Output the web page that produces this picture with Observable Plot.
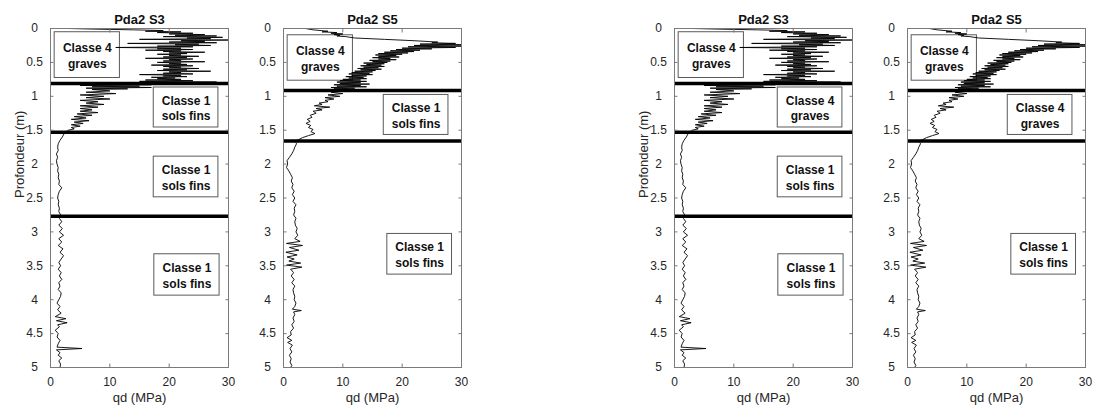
<!DOCTYPE html>
<html>
<head>
<meta charset="utf-8">
<script src="https://cdn.jsdelivr.net/npm/d3@7"></script>
<script src="https://cdn.jsdelivr.net/npm/@observablehq/plot@0.6"></script>
<style>
  body { margin: 0; background: #fff; }
  #wrap { position: relative; width: 1093px; height: 408px; overflow: hidden; background: #fff; }
  .panel { position: absolute; top: 0; width: 235px; height: 408px; }
  .panel svg { max-width: none; }
</style>
</head>
<body>
<div id="wrap"></div>
<script>
// ---------- data ----------
const xTicks = [0, 10, 20, 30];
const yTicks = [0, 0.5, 1, 1.5, 2, 2.5, 3, 3.5, 4, 4.5, 5];

// Pda2 S3 : depth (m) / qd (MPa)
const s3Depth = [
  0,0.01,0.02,0.03,0.04,0.05,0.06,0.07,0.08,0.09,
  0.10,0.11,0.12,0.13,0.14,0.15,0.16,0.17,0.18,0.19,
  0.20,0.21,0.22,0.23,0.24,0.25,0.26,0.27,0.28,0.29,
  0.30,0.31,0.32,0.33,0.34,0.35,0.36,0.37,0.38,0.39,
  0.40,0.41,0.42,0.43,0.44,0.45,0.46,0.47,0.48,0.49,
  0.50,0.51,0.52,0.53,0.54,0.55,0.56,0.57,0.58,0.59,
  0.60,0.61,0.62,0.63,0.64,0.65,0.66,0.67,0.68,0.69,
  0.70,0.71,0.72,0.73,0.74,0.75,0.76,0.77,0.78,0.79,
  0.80,0.81,0.82,0.83,0.84,0.85,0.86,0.87,0.88,0.89,0.90,
  0.92,0.94,0.96,0.98,1.00,1.02,1.04,1.06,1.08,1.10,
  1.12,1.14,1.16,1.18,1.20,1.22,1.24,1.26,1.28,1.30,
  1.32,1.34,1.36,1.38,1.40,1.42,1.44,1.46,1.48,1.50,
  1.55,1.60,1.65,1.70,1.75,1.80,1.85,1.90,1.95,2.00,
  2.05,2.10,2.15,2.20,2.25,2.30,2.35,2.40,2.45,2.50,
  2.55,2.60,2.65,2.70,2.75,2.80,2.85,2.90,2.95,3.00,
  3.05,3.10,3.15,3.20,3.25,3.30,3.35,3.40,3.45,3.50,
  3.55,3.60,3.65,3.70,3.75,3.80,3.85,3.90,3.95,4.00,
  4.05,4.10,4.15,4.20,4.25,4.28,4.31,4.34,4.37,4.40,
  4.45,4.50,4.55,4.60,4.65,4.70,4.72,4.74,4.78,4.82,
  4.86,4.90,4.95,5.00
];
const s3Qd = [
  3,8,14,19,16,22,18,24,20,26,
  21,28,19,29,23,27,15,30,22,26,
  20,28,13,25,21,27,18,24,11,22,
  18,24,16,22,19,26,20,23,18,22,
  20,25,19,23,16,24,20,22,19,26,
  18,22,20,23,17,24,19,22,20,25,
  19,23,18,27,20,22,19,24,15,22,
  19,23,17,21,18,22,16,24,15,28,
  8,24,6,17,5,15,7,17,6,13,7,
  10,6,11,5,9,6,10,5,8,6,
  9,5,8,5,7,5,8,4.5,7,4,
  6,3.5,6.5,4,5.5,3.5,5,3.5,4,3,
  2.3,2.0,1.6,1.3,1.2,1.3,1.0,1.2,1.0,1.1,
  1.3,1.2,1.4,1.3,1.5,1.4,1.9,1.5,1.3,1.2,
  1.4,1.3,1.5,1.4,1.7,1.5,1.9,1.4,2.0,1.5,
  2.2,1.4,1.9,1.3,2.1,1.6,2.2,1.8,1.4,1.7,
  1.3,1.8,1.5,1.9,1.4,1.6,1.3,1.8,1.7,1.4,
  1.1,1.6,1.2,1.8,0.8,2.6,1.0,2.8,1.2,1.5,
  0.8,1.3,1.1,1.6,1.3,1.1,5.3,1.0,1.6,1.3,
  1.9,1.4,1.7,1.6
];

// Pda2 S5 : depth (m) / qd (MPa)
const s5Depth = [
  0,0.02,0.04,0.05,0.06,0.07,0.08,0.09,0.10,0.11,0.12,0.14,0.16,0.18,0.20,
  0.21,0.22,0.23,0.24,0.25,0.26,0.27,0.28,0.29,
  0.30,0.31,0.32,0.33,0.34,0.35,0.36,0.37,0.38,0.39,
  0.40,0.41,0.42,0.43,0.44,0.45,0.46,0.47,0.48,0.49,
  0.50,0.51,0.52,0.53,0.54,0.55,0.56,0.57,0.58,0.59,
  0.60,0.61,0.62,0.63,0.64,0.65,0.66,0.67,0.68,0.69,
  0.70,0.71,0.72,0.73,0.74,0.75,0.76,0.77,0.78,0.79,
  0.80,0.81,0.82,0.83,0.84,0.85,0.86,0.87,0.88,0.89,
  0.90,0.91,0.92,
  0.94,0.96,0.98,1.00,1.02,1.04,1.06,1.08,1.10,1.12,1.14,1.16,1.18,1.20,1.22,
  1.25,1.28,1.31,1.34,1.37,1.40,1.43,1.46,1.49,1.52,1.55,1.58,1.61,1.64,1.67,1.70,
  1.75,1.80,1.85,1.90,1.95,2.00,2.05,2.10,2.15,2.20,
  2.25,2.30,2.35,2.40,2.45,2.50,2.55,2.60,2.65,2.70,
  2.75,2.80,2.85,2.90,2.95,3.00,3.05,3.10,
  3.14,3.17,3.20,3.23,3.27,3.30,3.34,3.37,3.40,3.43,3.46,3.49,3.52,3.55,
  3.60,3.65,3.70,3.75,3.80,3.85,3.90,3.95,4.00,4.05,4.10,
  4.14,4.16,4.18,4.22,4.27,4.32,4.37,4.42,4.47,4.52,4.56,4.60,4.63,4.67,
  4.72,4.77,4.82,4.87,4.92,4.97,5.00
];
const s5Qd = [
  3.7,5,7.5,6.5,9,8,10,8.5,9.5,9,10.5,12,17,22,26,
  25,29,23,30,22,30,21,29,20,
  25,19,23,18,22,17,21,16,20,15.5,
  19,16,19.5,15,18,16,19,14.5,18,15,
  17.5,13.5,17,14,16.5,13,17,13.5,16,12.5,
  16.5,13,15.5,12,15,11.5,14.5,11,15,11.5,
  14,10.5,13.5,11,14,10,13,9.5,14,9,
  13,9.5,14.5,8.5,13,9,14,8,12,8.5,
  11,8,10.5,
  8,10,7.5,9.5,7,8.5,7,7.5,6,6.5,5.2,7.8,5.5,6.5,5,
  5.5,4.5,4.8,4,4.5,3.8,4.6,4.2,5,4.6,5.3,4.2,3.2,2.5,2.0,2.2,
  1.9,1.7,1.4,1.0,0.6,0.7,0.5,0.9,1.2,1.5,
  1.3,1.6,1.4,1.8,1.5,1.9,1.6,2.1,1.8,1.9,
  1.7,2.1,1.9,2.0,2.3,2.1,2.4,1.9,
  2.8,0.5,3.2,1.0,2.6,0.4,2.3,0.6,1.8,0.9,2.9,0.5,3.1,1.2,
  1.7,1.3,1.8,1.4,1.9,1.6,1.7,1.9,1.8,2.1,1.9,
  1.5,3.0,1.7,1.9,1.6,1.8,1.4,1.7,1.2,1.3,0.6,1.4,0.7,1.5,
  1.1,1.4,1.0,1.3,1.1,1.4,1.2
];

// layer boundaries (m)
const s3Layers = [0.81, 1.53, 2.77];
const s5Layers = [0.915, 1.66];

// annotation boxes (data units)
const s3BoxX1 = [0.7, 17.4, 17.4, 17.5];
const s3BoxX2 = [11.7, 28.3, 28.3, 28.5];
const s3BoxY1 = [0.055, 0.87, 1.89, 3.33];
const s3BoxY2 = [0.73, 1.46, 2.49, 3.94];
const s5BoxX1 = [0.7, 16.9, 17.5];
const s5BoxX2 = [11.7, 27.8, 28.4];
const s5BoxY1 = [0.10, 0.98, 3.03];
const s5BoxY2 = [0.77, 1.57, 3.63];

const labelsPanel1 = ["Classe 4\ngraves", "Classe 1\nsols fins", "Classe 1\nsols fins", "Classe 1\nsols fins"];
const labelsPanel2 = ["Classe 4\ngraves", "Classe 1\nsols fins", "Classe 1\nsols fins"];
const labelsPanel3 = ["Classe 4\ngraves", "Classe 4\ngraves", "Classe 1\nsols fins", "Classe 1\nsols fins"];
const labelsPanel4 = ["Classe 4\ngraves", "Classe 4\ngraves", "Classe 1\nsols fins"];

const titles = ["Pda2 S3", "Pda2 S5", "Pda2 S3", "Pda2 S5"];
const xLabel = "qd (MPa)";
const yLabel = "Profondeur (m)";

// ---------- drawing ----------
const FONT = "'Liberation Sans', Arial, Helvetica, sans-serif";
const TEXT = "#262626";
const AXIS = "#7a7a7a";

function drawPanel({title, depth, qd, layers, bx1, bx2, by1, by2, labels, showY, left}) {
  const rows = depth.map((d, i) => ({d, q: qd[i]}));
  const boxes = labels.map((label, i) => ({x1: bx1[i], x2: bx2[i], y1: by1[i], y2: by2[i], label}));
  const marks = [
    Plot.rect(boxes, {x1: "x1", x2: "x2", y1: "y1", y2: "y2", fill: "white", stroke: "#5a5a5a", strokeWidth: 1}),
    Plot.line(rows, {x: "q", y: "d", stroke: "black", strokeWidth: 0.9, clip: true}),
    Plot.text(boxes, {x: b => (b.x1 + b.x2) / 2, y: b => (b.y1 + b.y2) / 2, text: "label",
      fontWeight: "bold", fontSize: 12, lineHeight: 1.3, fill: "#111"}),
    Plot.ruleY(layers, {stroke: "black", strokeWidth: 3.5}),
    Plot.frame({stroke: AXIS, strokeWidth: 1}),
    Plot.axisX({anchor: "bottom", ticks: xTicks, tickSize: -3.5, tickPadding: 13.5, label: null,
      tickFormat: d => String(d), fontSize: 12, stroke: AXIS, fill: TEXT}),
    Plot.axisX({anchor: "top", ticks: xTicks, tickSize: -3.5, label: null, tickFormat: () => "", stroke: AXIS}),
    Plot.axisY({anchor: "left", ticks: yTicks, tickSize: -3.5, tickPadding: 19.5, textAnchor: "middle", label: null,
      tickFormat: d => String(d), fontSize: 12, stroke: AXIS, fill: TEXT}),
    Plot.axisY({anchor: "right", ticks: yTicks, tickSize: -3.5, label: null, tickFormat: () => "", stroke: AXIS}),
    Plot.text([title], {text: d => d, frameAnchor: "top", dy: -14, lineAnchor: "top", fontWeight: "bold", fontSize: 13, fill: "#111"}),
    Plot.text([xLabel], {text: d => d, frameAnchor: "bottom", dy: 25, lineAnchor: "top", fontSize: 13, fill: TEXT})
  ];
  if (showY) {
    marks.push(Plot.text([yLabel], {text: d => d, frameAnchor: "left", dx: -31, rotate: -90, fontSize: 13, fill: TEXT}));
  }
  const chart = Plot.plot({
    width: 235,
    height: 408,
    marginLeft: 50,
    marginRight: 7,
    marginTop: 28,
    marginBottom: 41,
    style: {fontFamily: FONT, fontSize: "12px", background: "transparent", color: TEXT, overflow: "visible"},
    x: {domain: [0, 30], axis: null},
    y: {domain: [0, 5], reverse: true, axis: null},
    marks
  });
  const div = document.createElement("div");
  div.className = "panel";
  div.style.left = left + "px";
  div.appendChild(chart);
  document.getElementById("wrap").appendChild(div);
}

const s3Boxes = {bx1: s3BoxX1, bx2: s3BoxX2, by1: s3BoxY1, by2: s3BoxY2};
const s5Boxes = {bx1: s5BoxX1, bx2: s5BoxX2, by1: s5BoxY1, by2: s5BoxY2};

drawPanel({title: titles[0], depth: s3Depth, qd: s3Qd, layers: s3Layers, ...s3Boxes, labels: labelsPanel1, showY: true, left: 0});
drawPanel({title: titles[1], depth: s5Depth, qd: s5Qd, layers: s5Layers, ...s5Boxes, labels: labelsPanel2, showY: false, left: 233});
drawPanel({title: titles[2], depth: s3Depth, qd: s3Qd, layers: s3Layers, ...s3Boxes, labels: labelsPanel3, showY: true, left: 624});
drawPanel({title: titles[3], depth: s5Depth, qd: s5Qd, layers: s5Layers, ...s5Boxes, labels: labelsPanel4, showY: false, left: 857});
</script>
</body>
</html>
